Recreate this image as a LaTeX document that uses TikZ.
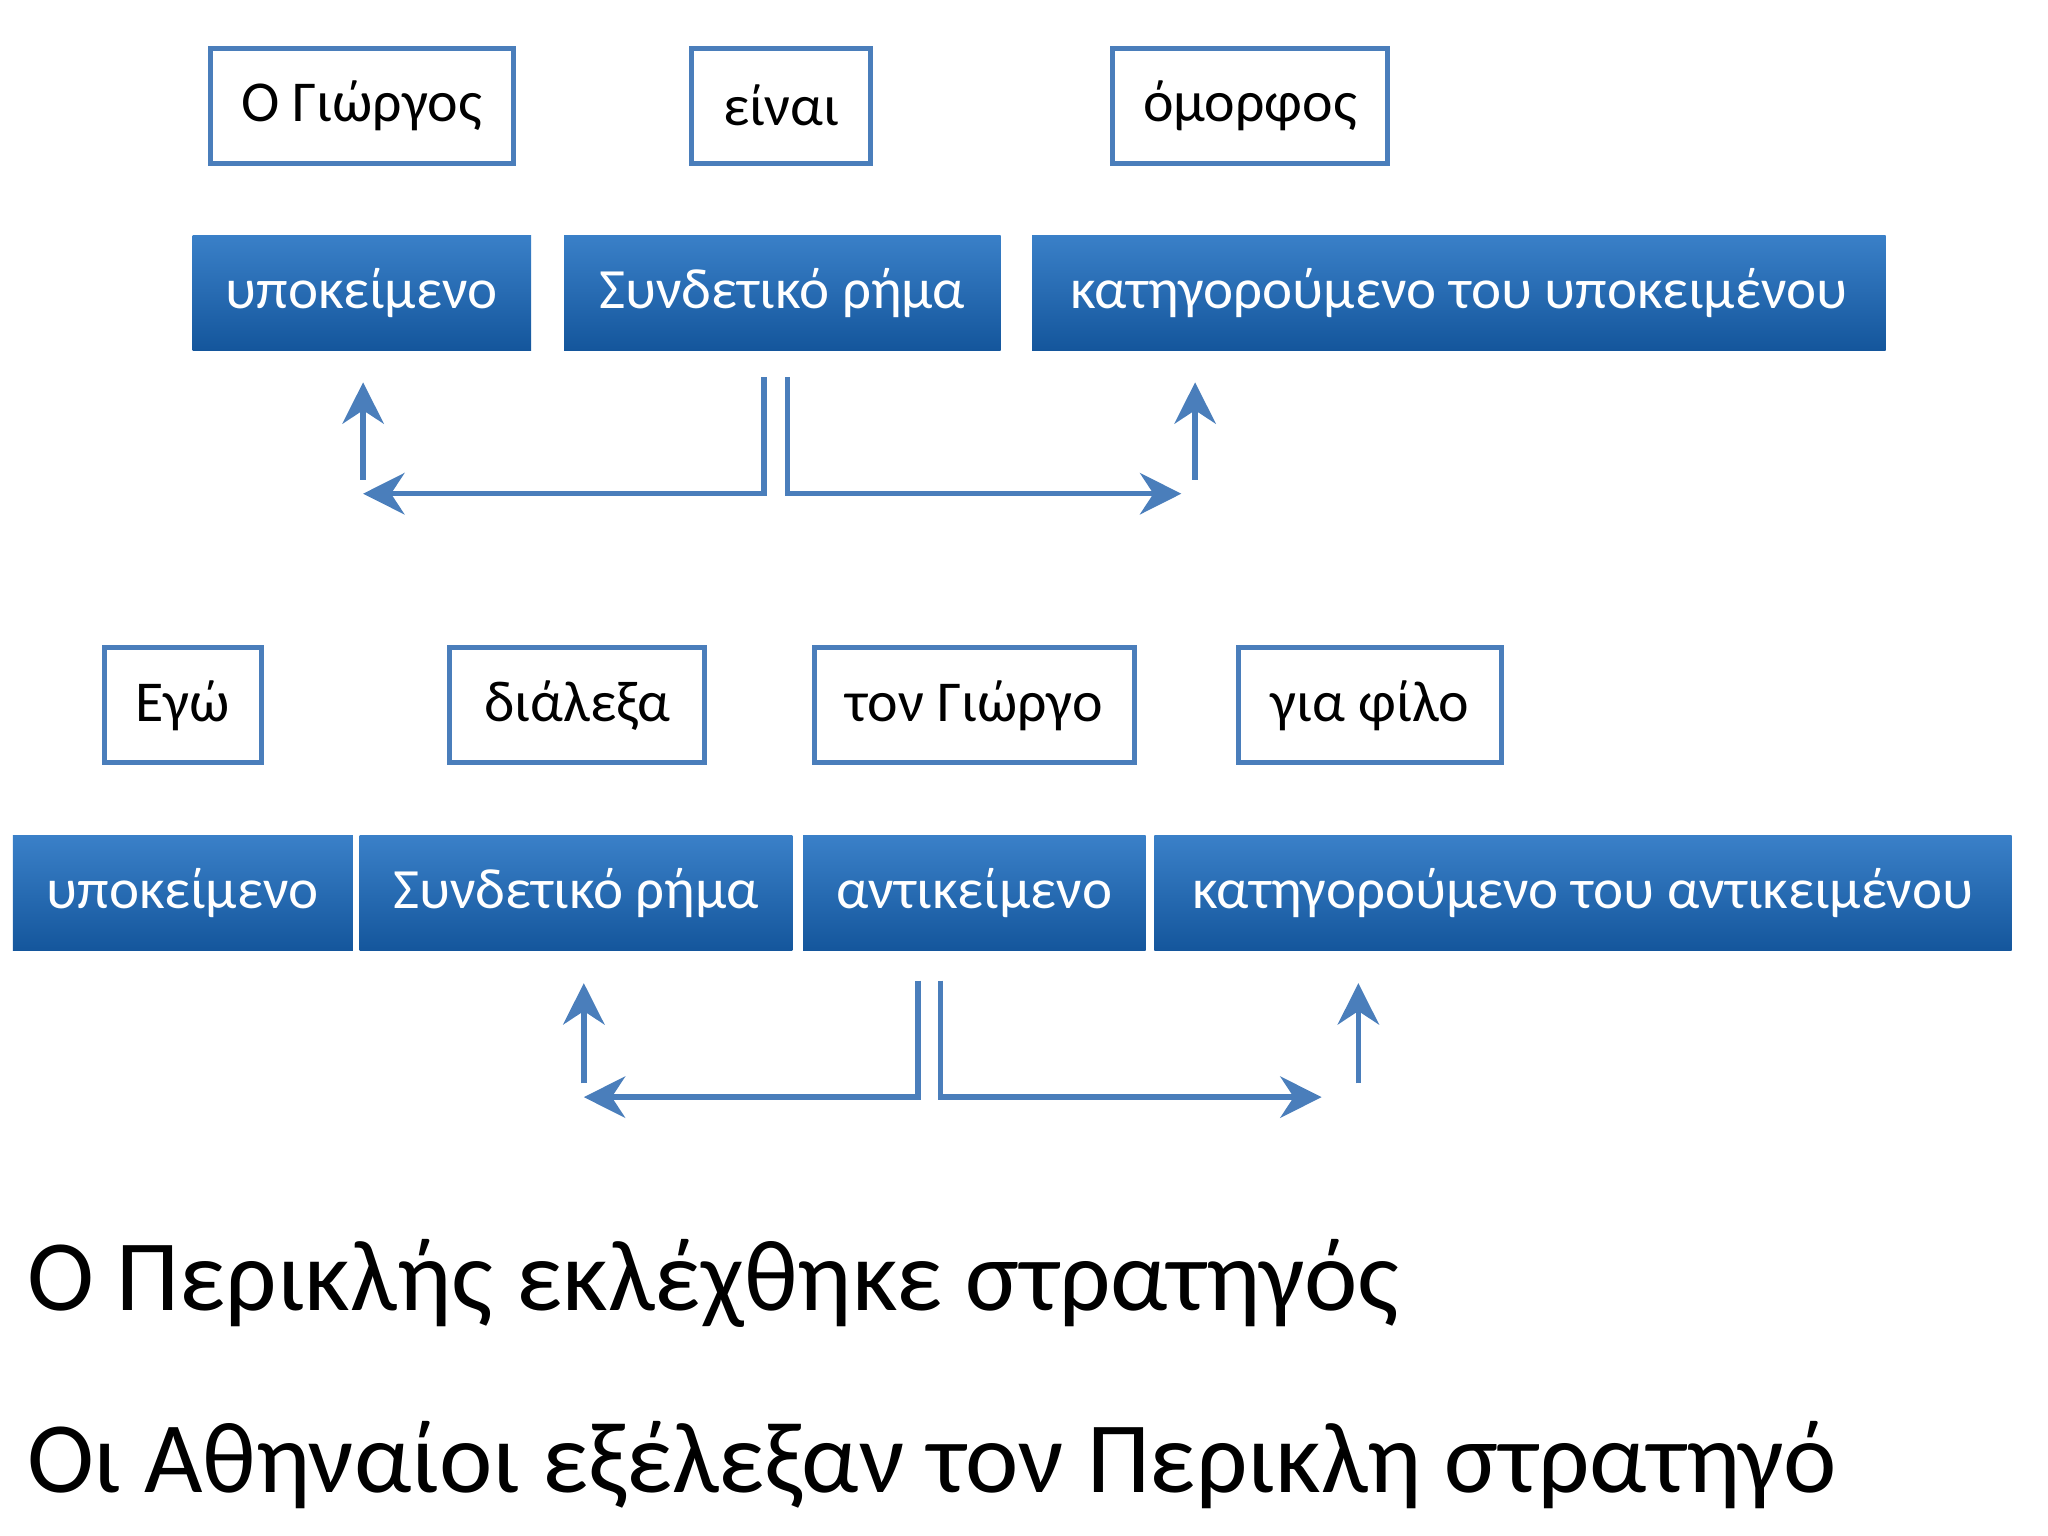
\documentclass[tikz,border=0pt]{standalone}
\usepackage{fontspec}
\setmainfont{Carlito}
\usetikzlibrary{arrows.meta,positioning}
\definecolor{barTop}{HTML}{3A80C8}
\definecolor{barBot}{HTML}{14569C}
\definecolor{lineBlue}{HTML}{4A7EBB}
\tikzset{>={Stealth[length=9pt,width=9pt]}}
\tikzset{
  word/.style={draw=lineBlue,line width=1.1pt,fill=white,inner sep=0pt,font=\fontsize{12.6}{14}\selectfont},
  bar/.style={top color=barTop,bottom color=barBot,draw=none,inner sep=0pt,text=white,font=\fontsize{12.4}{14}\selectfont},
  link/.style={draw=lineBlue,line width=1.2pt}
}
\begin{document}
\begin{tikzpicture}[x=0.01cm,y=-0.01cm]
      \useasboundingbox (0,0) rectangle (1568,1176);
      % first sentence
      \node[word,minimum width=2.32cm,minimum height=0.88cm] (w1) at (277,81) {Ο Γιώργος};
      \node[word,minimum width=1.37cm,minimum height=0.88cm] (w2) at (598,81) {είναι};
      \node[word,minimum width=2.11cm,minimum height=0.88cm] (w3) at (957,81) {όμορφος};
      \node[bar,minimum width=2.59cm,minimum height=0.88cm] (b1) at (277,224) {υποκείμενο};
      \node[bar,minimum width=3.34cm,minimum height=0.88cm] (b2) at (599,224) {Συνδετικό ρήμα};
      \node[bar,minimum width=6.53cm,minimum height=0.88cm] (b3) at (1117,224) {κατηγορούμενο του υποκειμένου};
      \coordinate (l1) at (278,378);
      \coordinate (r1) at (915,378);
      \draw[link,->] ([xshift=-0.14cm,yshift=-0.2cm]b2.south) |- (l1);
      \draw[link,->] ([yshift=3pt]l1) -- ([yshift=-0.24cm]l1 |- b1.south);
      \draw[link,->] ([xshift=0.04cm,yshift=-0.2cm]b2.south) |- ([xshift=-3pt]r1);
      \draw[link,->] ([yshift=3pt]r1) -- ([yshift=-0.24cm]r1 |- b3.south);
      % second sentence
      \node[word,minimum width=1.20cm,minimum height=0.88cm] (v1) at (140,540) {Εγώ};
      \node[word,minimum width=1.95cm,minimum height=0.88cm] (v2) at (442,540) {διάλεξα};
      \node[word,minimum width=2.45cm,minimum height=0.88cm] (v3) at (746,540) {τον Γιώργο};
      \node[word,minimum width=2.01cm,minimum height=0.88cm] (v4) at (1049,540) {για φίλο};
      \node[bar,minimum width=2.60cm,minimum height=0.88cm] (c1) at (140,684) {υποκείμενο};
      \node[bar,minimum width=3.31cm,minimum height=0.88cm] (c2) at (441,684) {Συνδετικό ρήμα};
      \node[bar,minimum width=2.62cm,minimum height=0.88cm] (c3) at (746,684) {αντικείμενο};
      \node[bar,minimum width=6.56cm,minimum height=0.88cm] (c4) at (1212,684) {κατηγορούμενο του αντικειμένου};
      \coordinate (l2) at (447,840);
      \coordinate (r2) at (1040,840);
      \draw[link,->] ([xshift=-0.43cm,yshift=-0.22cm]c3.south) |- (l2);
      \draw[link,->] ([yshift=3pt]l2) -- ([yshift=-0.24cm]l2 |- c2.south);
      \draw[link,->] ([xshift=-0.26cm,yshift=-0.22cm]c3.south) |- ([xshift=-8pt]r2);
      \draw[link,->] ([yshift=3pt]r2) -- ([yshift=-0.24cm]r2 |- c4.south);
      % examples
      \node[anchor=base west,inner sep=0pt,font=\fontsize{22}{26}\selectfont] (s1) at (20,1003) {Ο Περικλής εκλέχθηκε στρατηγός};
      \node[anchor=base west,inner sep=0pt,font=\fontsize{22}{26}\selectfont] (s2) at (20,1143) {Οι Αθηναίοι εξέλεξαν τον Περικλη στρατηγό};
\end{tikzpicture}
\end{document}
